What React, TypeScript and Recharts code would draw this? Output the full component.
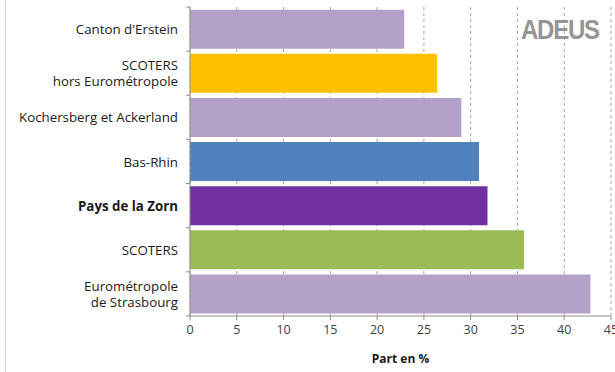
import React from "react";
import { BarChart, Bar, XAxis, YAxis, CartesianGrid, Cell } from "recharts";

// Territories, from top to bottom
const territories = [
  "Canton d'Erstein",
  "SCOTERS\nhors Eurométropole",
  "Kochersberg et Ackerland",
  "Bas-Rhin",
  "Pays de la Zorn",
  "SCOTERS",
  "Eurométropole\nde Strasbourg",
];

// Share in %
const shares = [22.9, 26.4, 29.0, 30.9, 31.8, 35.7, 42.8];

const xTicks = [0, 5, 10, 15, 20, 25, 30, 35, 40, 45];

const highlighted = "Pays de la Zorn";

const palette = [
  "#B3A2C7",
  "#FFC000",
  "#B3A2C7",
  "#4F81BD",
  "#7030A0",
  "#9BBB59",
  "#B3A2C7",
];

const data = territories.map((name, i) => ({ name, value: shares[i] }));

const W = 615;
const H = 372;
const TOP = 7;
const XAXIS_H = 56;
const YAXIS_W = 190;
const BAND = (H - TOP - XAXIS_H) / territories.length;
const FONT = "'Open Sans', Lato, sans-serif";
const AXIS_GREY = "#8c8c8c";

const CategoryTick = (props: any) => {
  const { x, y, payload } = props;
  const lines: string[] = String(payload.value).split("\n");
  const bold = payload.value === highlighted;
  const lineH = 16;
  const startY = y - ((lines.length - 1) * lineH) / 2;
  const axisX = x + 12;
  return (
    <g>
      <line x1={axisX - 4} x2={axisX} y1={y - BAND / 2} y2={y - BAND / 2} stroke={AXIS_GREY} />
      {payload.index === territories.length - 1 && (
        <line x1={axisX - 4} x2={axisX} y1={y + BAND / 2} y2={y + BAND / 2} stroke={AXIS_GREY} />
      )}
      {lines.map((l, i) => (
        <text
          key={i}
          x={x}
          y={startY + i * lineH}
          textAnchor="end"
          dominantBaseline="central"
          fontFamily={FONT}
          fontSize={13.3}
          fontWeight={bold ? 700 : 400}
          fill="#1a1a1a"
        >
          {l}
        </text>
      ))}
    </g>
  );
};

export default function App() {
  return (
    <div
      style={{
        position: "absolute",
        left: 0,
        top: 0,
        width: W,
        height: H,
        background: "#fff",
      }}
    >
      <div
        style={{
          position: "absolute",
          left: 5,
          top: 0,
          width: 1,
          height: H,
          background: "#d9d9d9",
        }}
      />
      <BarChart
        width={W}
        height={H}
        data={data}
        layout="vertical"
        margin={{ top: TOP, right: 4, bottom: 0, left: 0 }}
        barCategoryGap="6%"
      >
        <CartesianGrid
          horizontal={false}
          vertical
          stroke="#a6a6a6"
          strokeDasharray="3 3"
        />
        <XAxis
          type="number"
          domain={[0, 45]}
          ticks={xTicks}
          interval={0}
          height={XAXIS_H}
          tickSize={4}
          tickMargin={5}
          axisLine={{ stroke: AXIS_GREY }}
          tickLine={{ stroke: AXIS_GREY }}
          tick={{ fontFamily: FONT, fontSize: 12.5, fill: "#404040" }}
          label={{
            value: "Part en %",
            position: "insideBottom",
            offset: 9,
            style: { fontFamily: FONT, fontSize: 12, fontWeight: 700, fill: "#1a1a1a" },
          }}
        />
        <YAxis
          type="category"
          dataKey="name"
          width={YAXIS_W}
          tickSize={0}
          tickMargin={12}
          axisLine={{ stroke: AXIS_GREY }}
          tickLine={false}
          tick={<CategoryTick />}
          interval={0}
        />
        <Bar dataKey="value" isAnimationActive={false}>
          {data.map((d, i) => (
            <Cell key={d.name} fill={palette[i]} />
          ))}
        </Bar>
      </BarChart>
      <div
        style={{
          position: "absolute",
          left: 521,
          top: 14,
          fontFamily: "'Liberation Sans', Arial, sans-serif",
          fontWeight: 700,
          fontSize: 28,
          letterSpacing: -1.5,
          color: "#959595",
          transform: "scaleX(0.86)",
          transformOrigin: "left top",
        }}
      >
        ADEUS
      </div>
    </div>
  );
}
